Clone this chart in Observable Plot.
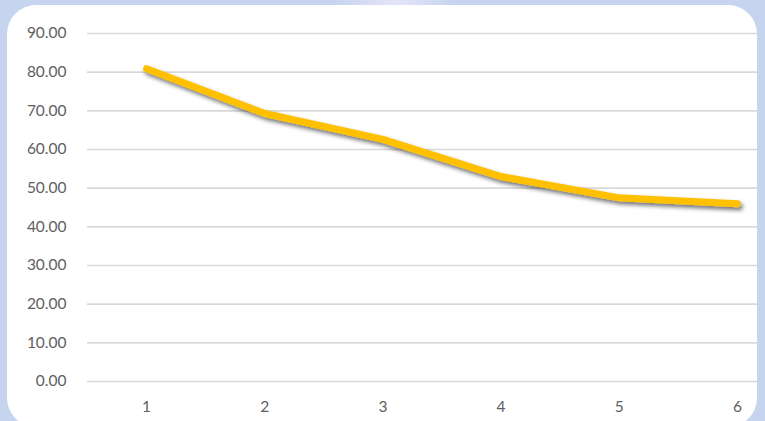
<!DOCTYPE html>
<html>
<head>
<meta charset="utf-8">
<script src="https://cdn.jsdelivr.net/npm/d3@7"></script>
<script src="https://cdn.jsdelivr.net/npm/@observablehq/plot@0.6"></script>
<style>
  html, body { margin: 0; padding: 0; }
  body {
    width: 765px; height: 421px; overflow: hidden; position: relative;
    background:
      radial-gradient(ellipse 60px 40px at 395px 0px, #e6e4f8 0%, rgba(230,228,248,0) 100%),
      #c6d4ef;
    font-family: Lato, "Noto Sans", sans-serif;
  }
  #card {
    position: absolute; left: 7px; top: 5px; width: 750px; height: 422px;
    background: #ffffff; border-radius: 29px;
  }
  #chart { position: absolute; left: 0; top: 0; }
  #chart svg { overflow: hidden; }
</style>
</head>
<body>
<div id="card"></div>
<div id="chart"></div>
<script>
const categories = [1, 2, 3, 4, 5, 6];
const values = [80.9, 69.3, 62.6, 53.0, 47.5, 46.0];
const yTicks = [0, 10, 20, 30, 40, 50, 60, 70, 80, 90];

const data = categories.map((c, i) => ({x: c, y: values[i]}));

const plot = Plot.plot({
  width: 765,
  height: 421,
  marginLeft: 87,
  marginRight: 8,
  marginTop: 33,
  marginBottom: 40,
  style: {background: "transparent", fontFamily: "Lato, 'Noto Sans', sans-serif", fontSize: "15px", color: "#595959"},
  x: {domain: [0.5, 6.5], range: [87, 796], label: null},
  y: {domain: [0, 90], label: null},
  marks: [
    Plot.ruleY(yTicks, {stroke: "#d9d9d9", strokeWidth: 1.6}),
    Plot.axisY({ticks: yTicks, tickFormat: d => d.toFixed(2), tickSize: 0, tickPadding: 21, fill: "#606060", fontSize: 15.5, label: null}),
    Plot.axisX({ticks: categories, tickFormat: d => String(d), tickSize: 0, tickPadding: 19, fill: "#606060", fontSize: 15.5, label: null}),
    Plot.line(data, {x: "x", y: "y", stroke: "#ffc000", strokeWidth: 7, strokeLinecap: "round", strokeLinejoin: "round"})
  ]
});

document.getElementById("chart").appendChild(plot);

// soft drop shadow on the line, like the reference
const svg = d3.select(plot);
const defs = svg.insert("defs", ":first-child");
const f = defs.append("filter").attr("id", "lineShadow").attr("filterUnits", "userSpaceOnUse")
  .attr("x", 0).attr("y", 0).attr("width", 765).attr("height", 421);
f.append("feDropShadow").attr("dx", 2).attr("dy", 3).attr("stdDeviation", 2.2).attr("flood-color", "#000").attr("flood-opacity", 0.55);
svg.selectAll("g[aria-label='line']").attr("filter", "url(#lineShadow)");
</script>
</body>
</html>
